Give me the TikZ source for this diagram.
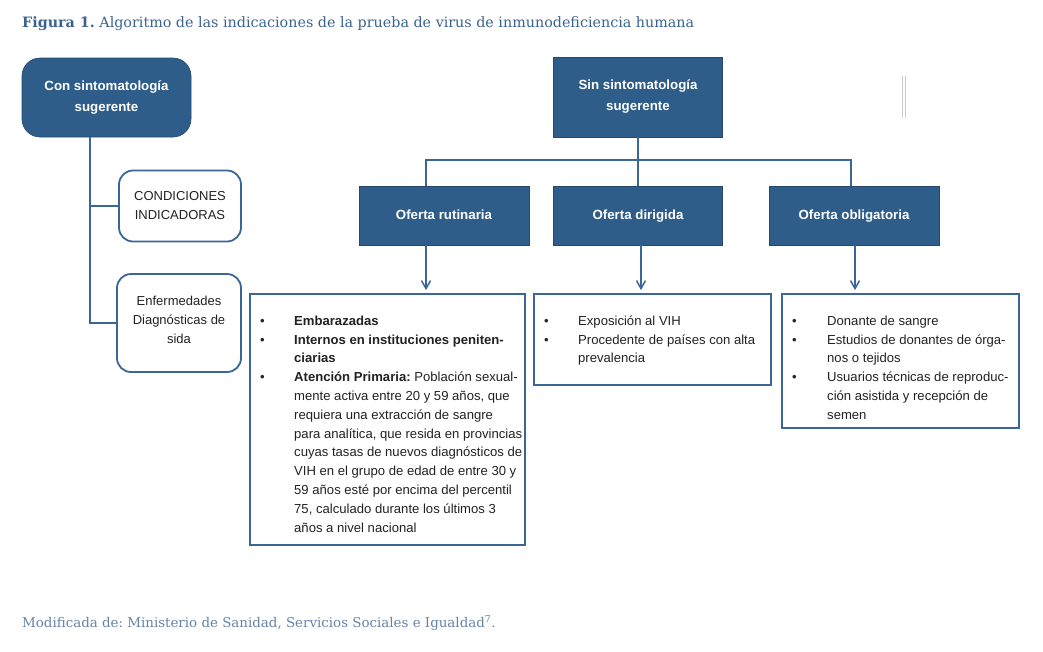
\documentclass[tikz,border=0pt]{standalone}
\usepackage{fontspec}
\setmainfont{Liberation Sans}
\newfontfamily\titlefont{DejaVu Serif}
\usetikzlibrary{arrows.meta,calc}
\definecolor{hdr}{HTML}{2F5D8A}
\definecolor{edge}{HTML}{3A6797}
\definecolor{ttl}{HTML}{3A6390}
\definecolor{capc}{HTML}{6483A8}
\definecolor{txt}{HTML}{222222}
\tikzset{
  hdrbox/.style={fill=hdr, draw=hdr!80!black, line width=0.6pt, text=white, font=\fontsize{13.3}{21}\selectfont\bfseries, align=center, inner sep=0pt},
  softbox/.style={draw=edge, line width=1.8pt, fill=white, rounded corners=14pt, align=center, inner sep=0pt, text=txt, font=\fontsize{13}{19}\selectfont},
  listbox/.style={draw=edge, line width=1.8pt, fill=white, inner sep=0pt},
  listtext/.style={anchor=north west, inner sep=0pt, text=txt, font=\fontsize{13.1}{18.8}\selectfont},
  conn/.style={draw=edge, line width=1.8pt},
  arr/.style={draw=edge, line width=1.5pt, -{Straight Barb[length=8pt,width=9pt,line width=1.5pt]}, shorten >=3pt}
}
\begin{document}
\frenchspacing
\begin{tikzpicture}[x=1pt,y=-1pt]
\useasboundingbox (0,0) rectangle (1043,651);
% title
\node[anchor=west, inner sep=0pt, text=ttl, font=\titlefont\fontsize{14.3}{17}\selectfont] (title) at (22,24) {\textbf{Figura 1.} Algoritmo de las indicaciones de la prueba de virus de inmunodeficiencia humana};
% left branch
\node[hdrbox, rounded corners=18pt, minimum width=169pt, minimum height=79pt] (con) at (106.5,97.5) {Con sintomatología\\sugerente};
\node[softbox, minimum width=122pt, minimum height=71pt] (cond) at (180,206) {CONDICIONES\\INDICADORAS};
\node[softbox, minimum width=124pt, minimum height=98pt] (enf) at (179,323) {Enfermedades\\Diagnósticas de\\sida\rule[-6pt]{0pt}{0pt}};
\draw[conn] ([xshift=-16.5pt]con.south) |- (cond.west);
\draw[conn] ([xshift=-16.5pt]con.south) |- (enf.west);
% right tree
\node[hdrbox, minimum width=169pt, minimum height=80pt] (sin) at (638,97) {Sin sintomatología\\sugerente};
\node[hdrbox, minimum width=170pt, minimum height=59pt, text height=10pt, text depth=3pt] (rut) at (444,215.5) {Oferta rutinaria};
\node[hdrbox, minimum width=169pt, minimum height=59pt, text height=10pt, text depth=3pt] (dir) at (638,215.5) {Oferta dirigida};
\node[hdrbox, minimum width=170pt, minimum height=59pt, text height=10pt, text depth=3pt] (obl) at (854,215.5) {Oferta obligatoria};
\coordinate (j) at (638,160);
\draw[conn] (sin.south) -- (j);
\draw[conn] (j) -| ([xshift=-18pt]rut.north);
\draw[conn] (j) -| ([xshift=-3pt]obl.north);
\draw[conn] (j) -- (dir.north);
% list boxes
\node[listbox, minimum width=275pt, minimum height=251pt] (rbox) at (387.5,419.5) {};
\node[listbox, minimum width=237pt, minimum height=91pt] (dbox) at (652.5,339.5) {};
\node[listbox, minimum width=237pt, minimum height=134pt] (obox) at (900.5,361) {};
\draw[arr] ([xshift=-18pt]rut.south) -- ([xshift=-18pt]rut.south |- rbox.north);
\draw[arr] ([xshift=3pt]dir.south) -- ([xshift=3pt]dir.south |- dbox.north);
\draw[arr] ([xshift=1pt]obl.south) -- ([xshift=1pt]obl.south |- obox.north);
% list texts
\node[listtext] (rtext) at (260,312) {\begin{tabular}{@{}p{34pt}@{}l@{}}
\textbullet & \textbf{Embarazadas}\\
\textbullet & \textbf{Internos en instituciones peniten-}\\
 & \textbf{ciarias}\\
\textbullet & \textbf{Atención Primaria:} Población sexual-\\
 & mente activa entre 20 y 59 años, que\\
 & requiera una extracción de sangre\\
 & para analítica, que resida en provincias\\
 & cuyas tasas de nuevos diagnósticos de\\
 & VIH en el grupo de edad de entre 30 y\\
 & 59 años esté por encima del percentil\\
 & 75, calculado durante los últimos 3\\
 & años a nivel nacional
\end{tabular}};
\node[listtext] (dtext) at (544,312) {\begin{tabular}{@{}p{34pt}@{}l@{}}
\textbullet & Exposición al VIH\\
\textbullet & Procedente de países con alta\\
 & prevalencia
\end{tabular}};
\node[listtext] (otext) at (792,312) {\begin{tabular}{@{}p{35pt}@{}l@{}}
\textbullet & Donante de sangre\\
\textbullet & Estudios de donantes de órga-\\
 & nos o tejidos\\
\textbullet & Usuarios técnicas de reproduc-\\
 & ción asistida y recepción de\\
 & semen
\end{tabular}};
% stray marks
\draw[black!20, line width=0.8pt] (902,76) -- (902,118) (905,76) -- (905,118);
% caption
\node[anchor=west, inner sep=0pt, text=capc, font=\titlefont\fontsize{13.4}{16}\selectfont] (caption) at (22,623) {Modificada de: Ministerio de Sanidad, Servicios Sociales e Igualdad\textsuperscript{7}.};
\end{tikzpicture}
\end{document}
